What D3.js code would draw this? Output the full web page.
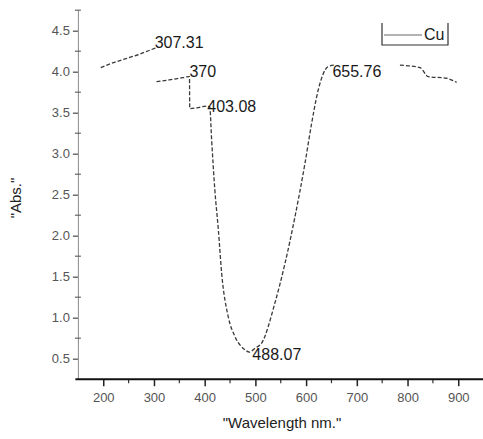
<!DOCTYPE html>
<html>
<head>
<meta charset="utf-8">
<script src="https://cdn.jsdelivr.net/npm/d3@7/dist/d3.min.js"></script>
<style>
  html, body { margin: 0; padding: 0; background: #fff; }
  svg { display: block; font-family: "Liberation Sans", Arial, sans-serif; }
</style>
</head>
<body>
<svg id="chart" width="483" height="439"></svg>
<script>
// UV-Vis absorbance spectrum of the Cu sample (null = break in the trace)
const wavelength = [195, 220, 245, 270, 295, 307.31, null,
  305, 330, 350, 370, 370.5, 385, 403.08, 410, 413.7, 420, 427, 433.5, 446.5, 459.7, 479.4, 488.07,
  500, 512.3, 538.5, 558.3, 578, 597.7, 610.9, 624, 643, 655.76, null,
  785, 824.5, 840.8, 877, 896.9];
const absorbance = [4.05, 4.11, 4.16, 4.21, 4.27, 4.30, null,
  3.88, 3.90, 3.92, 3.94, 3.55, 3.56, 3.58, 3.57, 3.17, 2.56, 2.07, 1.54, 1.01, 0.77, 0.61, 0.58,
  0.63, 0.69, 1.18, 1.66, 2.23, 2.88, 3.37, 3.78, 4.06, 4.08, null,
  4.08, 4.05, 3.94, 3.92, 3.87];

// labelled peaks / valleys
const peakWavelength = [307.31, 370, 403.08, 488.07, 655.76];
const peakAbsorbance = [4.30, 3.94, 3.58, 0.58, 4.08];
const peakText = ["307.31", "370", "403.08", "488.07", "655.76"];

const xTicks = [200, 300, 400, 500, 600, 700, 800, 900];
const xMinorTicks = [250, 350, 450, 550, 650, 750, 850];
const yTicks = [0.5, 1.0, 1.5, 2.0, 2.5, 3.0, 3.5, 4.0, 4.5];
const yMinorTicks = [0.75, 1.25, 1.75, 2.25, 2.75, 3.25, 3.75, 4.25, 4.75];

const seriesName = "Cu";
const xTitle = "\"Wavelength nm.\"";
const yTitle = "\"Abs.\"";

const svg = d3.select("#chart");

const x = d3.scaleLinear().domain([150, 950]).range([77.9, 483.6]);
const y = d3.scaleLinear().domain([0.25, 4.75]).range([379.2, 10.2]);

// ---- left axis (thin grey) ----
const yAxis = d3.axisLeft(y)
  .tickValues(yTicks)
  .tickSize(5)
  .tickSizeOuter(0)
  .tickPadding(3)
  .tickFormat(d3.format(".1f"));
const gy = svg.append("g").attr("transform", `translate(${x(150)},0)`).call(yAxis);
gy.select(".domain").attr("stroke", "#8a8a8a").attr("stroke-width", 1);
gy.selectAll(".tick line").attr("stroke", "#555").attr("stroke-width", 1.3);
gy.selectAll(".tick text")
  .attr("fill", "#555")
  .style("font-size", "13px")
  .style("font-family", "'Liberation Sans', Arial, sans-serif");
gy.selectAll(".minor")
  .data(yMinorTicks)
  .enter().append("line")
  .attr("class", "minor")
  .attr("x1", -3).attr("x2", 3)
  .attr("y1", d => y(d)).attr("y2", d => y(d))
  .attr("stroke", "#666").attr("stroke-width", 1.2);

// ---- bottom axis (black, heavier) ----
const xAxis = d3.axisBottom(x)
  .tickValues(xTicks)
  .tickSize(7)
  .tickSizeOuter(0)
  .tickPadding(7)
  .tickFormat(d3.format("d"));
const gx = svg.append("g").attr("transform", `translate(0,${y(0.25)})`).call(xAxis);
gx.select(".domain").remove();
gx.selectAll(".tick line").attr("stroke", "#222").attr("stroke-width", 1.5);
gx.selectAll(".tick text")
  .attr("fill", "#555")
  .style("font-size", "13px")
  .style("font-family", "'Liberation Sans', Arial, sans-serif");
gx.selectAll(".minor")
  .data(xMinorTicks)
  .enter().append("line")
  .attr("class", "minor")
  .attr("x1", d => x(d)).attr("x2", d => x(d))
  .attr("y1", 0).attr("y2", 4)
  .attr("stroke", "#333").attr("stroke-width", 1.2);
gx.append("line")
  .attr("x1", x(145)).attr("x2", x(950))
  .attr("y1", 0).attr("y2", 0)
  .attr("stroke", "#111").attr("stroke-width", 2);

// ---- spectrum trace ----
const points = wavelength.map((w, i) => ({ w, a: absorbance[i] }));
const line = d3.line()
  .defined(d => d.w != null && d.a != null)
  .x(d => x(d.w))
  .y(d => y(d.a))
  .curve(d3.curveMonotoneX);
svg.append("path")
  .datum(points)
  .attr("fill", "none")
  .attr("stroke", "#3a3a3a")
  .attr("stroke-width", 1.3)
  .attr("stroke-dasharray", "4,2")
  .attr("d", line);

// ---- peak labels ----
const labelOffset = [[-3, 1], [0, 0], [1, 6], [3, 8], [-2, 12]];
svg.selectAll(".peak")
  .data(peakText)
  .enter().append("text")
  .attr("class", "peak")
  .attr("x", (d, i) => x(peakWavelength[i]) + labelOffset[i][0])
  .attr("y", (d, i) => y(peakAbsorbance[i]) + labelOffset[i][1])
  .attr("fill", "#1a1a1a")
  .style("font-size", "16px")
  .text(d => d);

// ---- axis titles ----
svg.append("text")
  .attr("transform", "translate(21,198) rotate(-90)")
  .attr("text-anchor", "middle")
  .attr("fill", "#222")
  .style("font-size", "15px")
  .text(yTitle);
svg.append("text")
  .attr("x", 282)
  .attr("y", 428)
  .attr("text-anchor", "middle")
  .attr("fill", "#222")
  .style("font-size", "15px")
  .text(xTitle);

// ---- legend ----
const lg = svg.append("g").attr("transform", "translate(382,23)");
lg.append("path")
  .attr("d", "M0,0V22H66V0")
  .attr("fill", "none")
  .attr("stroke", "#333")
  .attr("stroke-width", 1.2);
lg.append("line")
  .attr("x1", 2).attr("x2", 40)
  .attr("y1", 12).attr("y2", 12)
  .attr("stroke", "#666").attr("stroke-width", 1);
lg.append("text")
  .attr("x", 42).attr("y", 17)
  .attr("fill", "#1a1a1a")
  .style("font-size", "16px")
  .text(seriesName);
</script>
</body>
</html>
